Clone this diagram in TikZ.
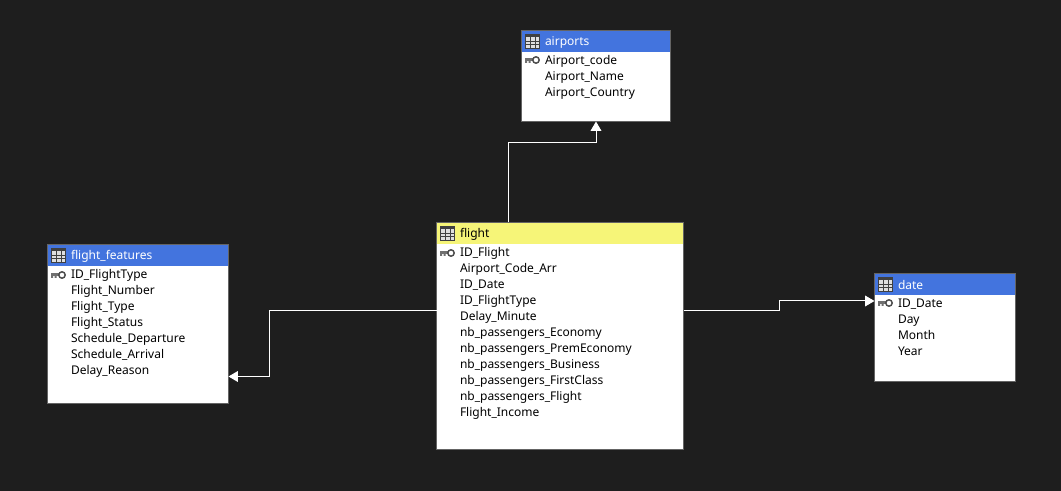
\documentclass[tikz,border=0pt]{standalone}
\usepackage{fontspec}
\setmainfont{Noto Sans}
\usetikzlibrary{positioning,calc,arrows.meta}
\definecolor{canvasgray}{HTML}{1E1E1E}
\definecolor{edgegray}{HTML}{646464}
\definecolor{headblue}{HTML}{4374DE}
\definecolor{headyellow}{HTML}{F6F578}
\definecolor{icongray}{HTML}{707070}
\begin{document}
\begin{tikzpicture}[
  x=0.75pt, y=-0.75pt,
  tablebody/.style 2 args={rectangle, draw=edgegray, line width=0.75pt, fill=white, anchor=north west, inner sep=0pt, outer sep=0pt, minimum width=#1*0.75pt, minimum height=#2*0.75pt},
  header/.style 2 args={rectangle, fill=#2, anchor=north west, inner sep=0pt, outer sep=0pt, minimum width=#1*0.75pt, minimum height=15.75pt},
  title/.style={anchor=west, inner sep=0pt, outer sep=0pt, font=\fontsize{9pt}{9pt}\selectfont, text=#1},
  row/.style={anchor=north west, inner sep=0pt, outer sep=0pt, minimum height=12pt, text height=7pt, text depth=2pt, font=\fontsize{9pt}{9pt}\selectfont, text=black},
  link/.style={draw=white, line width=0.75pt, -{Triangle[width=8pt,length=7pt,fill=white]}},
  tableicon/.pic={
    \draw[black!75, line width=0.75pt, fill=gray!25] (-7,-7) rectangle (7,7);
    \fill[black!75] (-7,-7) rectangle (7,-4);
    \draw[black!75, line width=0.6pt] (-7,-0.5) -- (7,-0.5) (-7,3.2) -- (7,3.2) (-2.4,-4) -- (-2.4,7) (2.4,-4) -- (2.4,7);
  },
  keyicon/.pic={
    \fill[icongray] (-7,-2) rectangle (2,1);
    \fill[icongray] (-7,1) rectangle (-5,3) (-3.5,1) rectangle (-1.5,3);
    \draw[black!70, line width=1.1pt, fill=white] (4,0) circle (3.2);
  }
]
\useasboundingbox (0,0) rectangle (1061,491);
\fill[canvasgray] (0,0) rectangle (1061,491);

% airports
\node[tablebody={149}{91}] (airports_b) at (521.5,30.5) {};
\node[header={148}{headblue}] (airports_h) at (522,31) {};
\pic at ($(airports_h.west)+(10.5,0)$) {tableicon};
\node[title=white] (airports_t) at ($(airports_h.west)+(23,1)$) {airports};
\pic at ($(airports_h.south west)+(10,8)$) {keyicon};
\node[row] (airports_r1) at ($(airports_h.south west)+(23,1.5)$) {Airport\_code};
\node[row] (airports_r2) at (airports_r1.south west) {Airport\_Name};
\node[row] (airports_r3) at (airports_r2.south west) {Airport\_Country};

% flight
\node[tablebody={247}{227}] (flight_b) at (436.5,222.5) {};
\node[header={246}{headyellow}] (flight_h) at (437,223) {};
\pic at ($(flight_h.west)+(10.5,0)$) {tableicon};
\node[title=black] (flight_t) at ($(flight_h.west)+(23,0.5)$) {flight};
\pic at ($(flight_h.south west)+(10,9)$) {keyicon};
\node[row] (flight_r1) at ($(flight_h.south west)+(23,1.5)$) {ID\_Flight};
\node[row] (flight_r2) at (flight_r1.south west) {Airport\_Code\_Arr};
\node[row] (flight_r3) at (flight_r2.south west) {ID\_Date};
\node[row] (flight_r4) at (flight_r3.south west) {ID\_FlightType};
\node[row] (flight_r5) at (flight_r4.south west) {Delay\_Minute};
\node[row] (flight_r6) at (flight_r5.south west) {nb\_passengers\_Economy};
\node[row] (flight_r7) at (flight_r6.south west) {nb\_passengers\_PremEconomy};
\node[row] (flight_r8) at (flight_r7.south west) {nb\_passengers\_Business};
\node[row] (flight_r9) at (flight_r8.south west) {nb\_passengers\_FirstClass};
\node[row] (flight_r10) at (flight_r9.south west) {nb\_passengers\_Flight};
\node[row] (flight_r11) at (flight_r10.south west) {Flight\_Income};

% flight_features
\node[tablebody={181}{159}] (features_b) at (47.5,244.5) {};
\node[header={180}{headblue}] (features_h) at (48,245) {};
\pic at ($(features_h.west)+(10.5,0)$) {tableicon};
\node[title=white] (features_t) at ($(features_h.west)+(23,0.5)$) {flight\_features};
\pic at ($(features_h.south west)+(10,9)$) {keyicon};
\node[row] (features_r1) at ($(features_h.south west)+(23,1.5)$) {ID\_FlightType};
\node[row] (features_r2) at (features_r1.south west) {Flight\_Number};
\node[row] (features_r3) at (features_r2.south west) {Flight\_Type};
\node[row] (features_r4) at (features_r3.south west) {Flight\_Status};
\node[row] (features_r5) at (features_r4.south west) {Schedule\_Departure};
\node[row] (features_r6) at (features_r5.south west) {Schedule\_Arrival};
\node[row] (features_r7) at (features_r6.south west) {Delay\_Reason};

% date
\node[tablebody={141}{108}] (date_b) at (874.5,273.5) {};
\node[header={140}{headblue}] (date_h) at (875,274) {};
\pic at ($(date_h.west)+(10.5,0)$) {tableicon};
\node[title=white] (date_t) at ($(date_h.west)+(23,0.5)$) {date};
\pic at ($(date_h.south west)+(10,8)$) {keyicon};
\node[row] (date_r1) at ($(date_h.south west)+(23,1.5)$) {ID\_Date};
\node[row] (date_r2) at (date_r1.south west) {Day};
\node[row] (date_r3) at (date_r2.south west) {Month};
\node[row] (date_r4) at (date_r3.south west) {Year};

% links
\coordinate (airports_in) at ($(airports_b.south)+(0,21.5)$);
\coordinate (features_in) at ($(features_b.east)+(41,52.5)$);
\coordinate (date_in) at ($(date_b.west)+(-95,-26.5)$);
\draw[link] ($(flight_b.north)+(-51.5,0)$) |- (airports_in) -- (airports_b.south);
\draw[link] ($(flight_b.west)+(0,-25.5)$) -| (features_in) -- ($(features_b.east)+(0,52.5)$);
\draw[link] ($(flight_b.east)+(0.5,-25.5)$) -| (date_in) -- ($(date_b.west)+(0,-26.5)$);
\end{tikzpicture}
\end{document}
